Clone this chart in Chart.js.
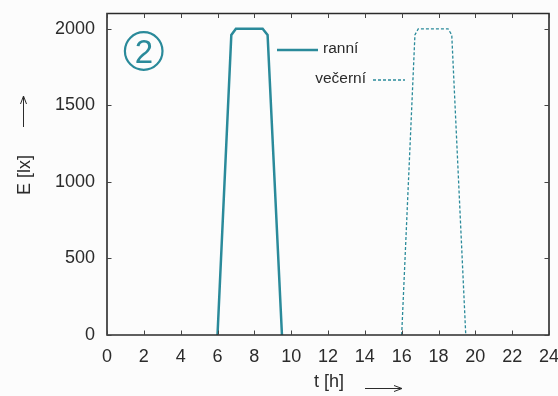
<!DOCTYPE html>
<html>
<head>
<meta charset="utf-8">
<script src="https://cdn.jsdelivr.net/npm/chart.js@4/dist/chart.umd.min.js"></script>
<style>
html,body{margin:0;padding:0;background:#fcfcfc;}
</style>
</head>
<body>
<canvas id="c" width="558" height="396"></canvas>
<script>
// Data
const morningHours  = [6, 6.75, 7, 8.45, 8.72, 9.5];
const morningValues = [0, 1960, 2000, 2000, 1960, 0];
const eveningHours  = [16, 16.72, 16.9, 18.52, 18.72, 19.48];
const eveningValues = [0, 1960, 2000, 2000, 1960, 0];
const seriesLabels  = ['ranní', 'večerní'];
const xTickValues = [0, 2, 4, 6, 8, 10, 12, 14, 16, 18, 20, 22, 24];
const yTickValues = [0, 500, 1000, 1500, 2000];
const xTitle = 't [h]';
const yTitle = 'E [lx]';
const badgeText = '2';

const TEAL = '#2a8a9a';
const INK = '#2b2b2b';
const FONT = '"Liberation Sans", Arial, sans-serif';

const toPts = (xs, ys) => xs.map((x, i) => ({x: x, y: ys[i]}));

const decor = {
  id: 'decor',
  beforeDraw(chart) {
    const ctx = chart.ctx;
    ctx.save();
    ctx.fillStyle = '#fcfcfc';
    ctx.fillRect(0, 0, chart.width, chart.height);
    ctx.restore();
  },
  afterDraw(chart) {
    const ctx = chart.ctx;
    const a = chart.chartArea;
    const xs = chart.scales.x, ys = chart.scales.y;
    ctx.save();
    // frame
    ctx.strokeStyle = INK;
    ctx.lineWidth = 1.6;
    ctx.beginPath();
    ctx.moveTo(a.left, a.top); ctx.lineTo(a.right, a.top);
    ctx.lineTo(a.right, a.bottom); ctx.lineTo(a.left, a.bottom);
    ctx.closePath();
    ctx.stroke();
    // inward ticks on all sides
    ctx.lineWidth = 1;
    ctx.strokeStyle = '#444';
    const tl = 4.5;
    xs.ticks.forEach(t => {
      const px = Math.round(xs.getPixelForValue(t.value)) + 0.5;
      ctx.beginPath();
      ctx.moveTo(px, a.bottom); ctx.lineTo(px, a.bottom - tl);
      ctx.moveTo(px, a.top); ctx.lineTo(px, a.top + tl);
      ctx.stroke();
    });
    ys.ticks.forEach(t => {
      const py = Math.round(ys.getPixelForValue(t.value)) + 0.5;
      ctx.beginPath();
      ctx.moveTo(a.left, py); ctx.lineTo(a.left + tl, py);
      ctx.moveTo(a.right, py); ctx.lineTo(a.right - tl, py);
      ctx.stroke();
    });
    // axis titles
    ctx.fillStyle = INK;
    ctx.font = '18px ' + FONT;
    ctx.textAlign = 'center';
    ctx.textBaseline = 'middle';
    ctx.fillText(xTitle, 329, 382);
    ctx.save();
    ctx.translate(25, 175);
    ctx.rotate(-Math.PI / 2);
    ctx.fillText(yTitle, 0, 0);
    ctx.restore();
    // arrows
    ctx.strokeStyle = INK;
    ctx.lineWidth = 1;
    ctx.beginPath();
    ctx.moveTo(365, 388.5); ctx.lineTo(402, 388.5);
    ctx.moveTo(394, 385.5); ctx.lineTo(402, 388.5); ctx.lineTo(394, 391.5);
    ctx.moveTo(23.5, 127); ctx.lineTo(23.5, 96);
    ctx.moveTo(20.5, 104); ctx.lineTo(23.5, 96); ctx.lineTo(26.5, 104);
    ctx.stroke();
    // legend
    const d0 = chart.data.datasets[0], d1 = chart.data.datasets[1];
    ctx.strokeStyle = d0.borderColor;
    ctx.lineWidth = d0.borderWidth;
    ctx.beginPath(); ctx.moveTo(277, 50); ctx.lineTo(318, 50); ctx.stroke();
    ctx.strokeStyle = d1.borderColor;
    ctx.lineWidth = d1.borderWidth;
    ctx.setLineDash(d1.borderDash);
    ctx.beginPath(); ctx.moveTo(373, 80); ctx.lineTo(405, 80); ctx.stroke();
    ctx.setLineDash([]);
    ctx.fillStyle = INK;
    ctx.font = '15.5px ' + FONT;
    ctx.textAlign = 'left';
    ctx.fillText(d0.label, 323, 49);
    ctx.textAlign = 'right';
    ctx.fillText(d1.label, 366, 79);
    // circled badge
    ctx.strokeStyle = TEAL;
    ctx.lineWidth = 2.2;
    ctx.beginPath(); ctx.arc(143.7, 51, 18.8, 0, Math.PI * 2); ctx.stroke();
    ctx.fillStyle = TEAL;
    ctx.font = '33px ' + FONT;
    ctx.textAlign = 'center';
    ctx.textBaseline = 'alphabetic';
    ctx.fillText(badgeText, 144, 63);
    ctx.restore();
  }
};

new Chart(document.getElementById('c'), {
  type: 'line',
  data: {
    datasets: [
      {
        label: seriesLabels[0],
        data: toPts(morningHours, morningValues),
        borderColor: TEAL,
        borderWidth: 2.5,
        pointRadius: 0,
        tension: 0,
        fill: false
      },
      {
        label: seriesLabels[1],
        data: toPts(eveningHours, eveningValues),
        borderColor: TEAL,
        borderWidth: 1.3,
        borderDash: [3, 2],
        pointRadius: 0,
        tension: 0,
        fill: false
      }
    ]
  },
  options: {
    responsive: false,
    animation: false,
    devicePixelRatio: 1,
    layout: {padding: {top: 13.5, right: 9, left: 0, bottom: 0}},
    plugins: {legend: {display: false}, tooltip: {enabled: false}},
    scales: {
      x: {
        type: 'linear',
        min: 0, max: 24,
        ticks: {color: INK, font: {family: FONT, size: 18}, padding: 11, maxRotation: 0, autoSkip: false,
                callback: v => String(v)},
        afterBuildTicks(s) { s.ticks = xTickValues.map(v => ({value: v})); },
        grid: {display: false, drawTicks: false},
        border: {display: false},
        afterFit(s) { s.height = 61; s.paddingLeft = 0; s.paddingRight = 0; }
      },
      y: {
        type: 'linear',
        min: 0, max: 2100,
        ticks: {color: INK, font: {family: FONT, size: 18}, padding: 12, autoSkip: false,
                callback: v => String(v)},
        afterBuildTicks(s) { s.ticks = yTickValues.map(v => ({value: v})); },
        grid: {display: false, drawTicks: false},
        border: {display: false},
        afterFit(s) { s.width = 107; s.paddingTop = 0; s.paddingBottom = 0; }
      }
    }
  },
  plugins: [decor]
});
</script>
</body>
</html>
